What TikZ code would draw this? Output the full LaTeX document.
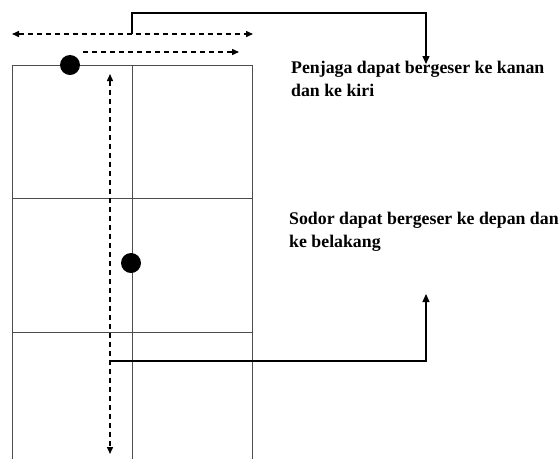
\documentclass[tikz,border=0pt]{standalone}
\usepackage{fontspec}
\setmainfont{Liberation Serif}
\usetikzlibrary{arrows.meta}
\begin{document}
\begin{tikzpicture}[x=1pt,y=-1pt,
  grid/.style={draw=black!70,line width=1pt},
  conn/.style={draw=black,line width=1.2pt,-{Triangle[length=8pt,width=7pt]}},
  dashline/.style={draw=black,line width=1.4pt,dash pattern=on 5pt off 4pt,{Triangle[length=7pt,width=6pt]}-{Triangle[length=7pt,width=6pt]}},
  dashright/.style={draw=black,line width=1.4pt,dash pattern=on 5pt off 4pt,-{Triangle[length=7pt,width=6pt]}},
  dot/.style={circle,fill=black,inner sep=0pt,minimum size=20pt},
  lbl/.style={anchor=base west,inner sep=0pt,align=left,font=\fontsize{17.8}{22.5}\selectfont\bfseries}]
\useasboundingbox (0,0) rectangle (560,459);
% field
\draw[grid] (12,459) -- (12,65) -- (252,65) -- (252,459);
\draw[grid] (132,65) -- (132,459);
\draw[grid] (12,198) -- (252,198);
\draw[grid] (12,332) -- (252,332);
% dots
\node[dot] (penjaga) at (70,65) {};
\node[dot] (sodor) at (131,263) {};
% coordinates
\coordinate (tl) at (12,34);
\coordinate (tr) at (253,34);
\coordinate (tj) at (132,34);
\coordinate (sl) at (83,52);
\coordinate (sr) at (239,52);
\coordinate (vt) at (110,74);
\coordinate (vb) at (110,454);
\coordinate (vj) at (110,361);
\coordinate (a1) at (426,64);
\coordinate (a2) at (426,294);
% arrows
\draw[dashline] (tl) -- (tr);
\draw[dashright] (sl) -- (sr);
\draw[dashline] (vt) -- (vb);
\draw[conn] (tj) -- (132,13) -| (a1);
\draw[conn] (vj) -| (a2);
% labels
\node[lbl] (t1) at (291,96) {Penjaga dapat bergeser ke kanan\\dan ke kiri};
\node[lbl] (t2) at (289,247) {Sodor dapat bergeser ke depan dan\\ke belakang};
\end{tikzpicture}
\end{document}
